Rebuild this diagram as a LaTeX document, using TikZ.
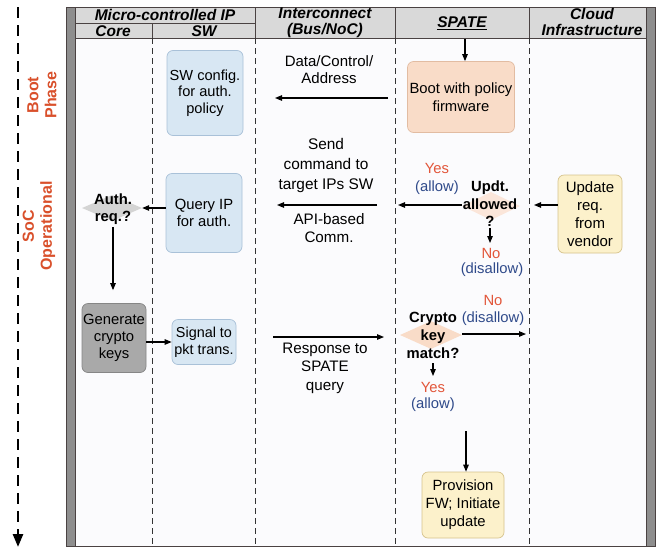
\documentclass[tikz,border=0pt]{standalone}
\usepackage{fontspec}
\setmainfont{Liberation Sans}
\usetikzlibrary{shapes.geometric,arrows.meta}

\definecolor{phasered}{HTML}{D9502B}
\definecolor{yesred}{HTML}{E2563A}
\definecolor{allowblue}{HTML}{2F4A8A}
\definecolor{headgray}{HTML}{D9D9D9}
\definecolor{bodyfill}{HTML}{FBFBFD}
\definecolor{framegray}{HTML}{8E8E8E}
\definecolor{linecol}{HTML}{4A4242}
\definecolor{blfill}{HTML}{D8E7F3}
\definecolor{bldraw}{HTML}{A9C1D8}
\definecolor{pchfill}{HTML}{F9DCC8}
\definecolor{pchdraw}{HTML}{E2BCA2}
\definecolor{ylfill}{HTML}{FCF1CB}
\definecolor{yldraw}{HTML}{D6C38C}
\definecolor{gyfill}{HTML}{A9A9A9}
\definecolor{gydraw}{HTML}{868686}
\definecolor{dmgray}{HTML}{D4D4D4}
\definecolor{dmpeach}{HTML}{F9DCC8}
\definecolor{dmpale}{HTML}{FBE6DA}

\tikzset{
  txt/.style={font=\fontsize{14.8}{17.5}\selectfont, align=center, inner sep=0pt},
  bigtxt/.style={font=\fontsize{15.2}{18}\selectfont, align=center, inner sep=0pt},
  boldtxt/.style={font=\fontsize{14.8}{17.5}\selectfont\bfseries, align=center, inner sep=0pt},
  headtxt/.style={font=\fontsize{15.5}{16}\selectfont\bfseries\itshape, align=center, inner sep=0pt},
  phasetxt/.style={font=\fontsize{16}{18}\selectfont\bfseries, text=phasered, align=center, inner sep=0pt, rotate=90},
  yestxt/.style={txt, text=yesred},
  allowtxt/.style={txt, text=allowblue},
  box/.style={txt, rounded corners=6pt, line width=0.7pt},
  bluebox/.style={box, fill=blfill, draw=bldraw},
  peachbox/.style={box, fill=pchfill, draw=pchdraw},
  yellowbox/.style={box, fill=ylfill, draw=yldraw},
  graybox/.style={box, fill=gyfill, draw=gydraw},
  decision/.style={diamond, inner sep=0pt, draw=none},
  flow/.style={-{Triangle[length=7pt,width=5.5pt]}, line width=1.1pt},
  hline/.style={line width=0.9pt, draw=linecol},
  sep/.style={dash pattern=on 6pt off 4pt, line width=1pt, draw=black!80},
  timeline/.style={dash pattern=on 11pt off 7pt, line width=2.6pt,
                   -{Triangle[length=13pt,width=10pt]}},
}

\begin{document}
\begin{tikzpicture}[x=1pt,y=-1pt]
\useasboundingbox (0,0) rectangle (660,549);

% swimlane body and header band
\fill[bodyfill] (75,38) rectangle (646,546);
\fill[headgray] (75,7) rectangle (646,38);

% header grid
\draw[hline] (75,23) -- (255,23);
\draw[hline] (152,23) -- (152,38);
\draw[hline] (255,7) -- (255,38);
\draw[hline] (395,7) -- (395,38);
\draw[hline] (529,7) -- (529,38);
\draw[hline] (75,38) -- (646,38);
\draw[hline] (66,7) -- (656,7);
\draw[hline] (66,546) -- (656,546);

% lane separators
\draw[sep] (152,38) -- (152,546);
\draw[sep] (255,38) -- (255,546);
\draw[sep] (395,38) -- (395,546);
\draw[sep] (529,38) -- (529,546);

% side bars of the frame
\draw[fill=framegray, draw=linecol, line width=0.7pt] (66,7) rectangle (75,546);
\draw[fill=framegray, draw=linecol, line width=0.7pt] (646,7) rectangle (655,546);

% header labels
\node[headtxt] (hMicro) at (165,15) {Micro-controlled IP};
\node[headtxt] (hCore)  at (113,31) {Core};
\node[headtxt] (hSW)    at (204,31) {SW};
\node[headtxt] (hInter) at (325,23) {Interconnect\\(Bus/NoC)};
\node[headtxt] (hSpate) at (462,23) {\underline{SPATE}};
\node[headtxt] (hCloud) at (592,22) {Cloud\\Infrastructure};

% time axis and phases
\coordinate (tStart) at (18,7);
\coordinate (tEnd) at (18,547);
\draw[timeline] (tStart) -- (tEnd);
\node[phasetxt] (boot phase) at (42,95) {Boot\\Phase};
\node[phasetxt] (soc phase) at (39,226) {SoC\\Operational};

% ---------- boot phase ----------
\node[bluebox, minimum width=76pt, minimum height=85pt,
      font=\fontsize{14.6}{16.3}\selectfont] (swcfg) at (205,93)
      {SW config.\\for auth.\\policy};
\node[peachbox, minimum width=107pt, minimum height=71pt,
      font=\fontsize{14.8}{18}\selectfont] (boot) at (461,97)
      {Boot with policy\\firmware};
\coordinate (spateTop) at (465,39);
\draw[flow] (spateTop) -- (spateTop |- boot.north);

\coordinate (dcaR) at (388,98);
\coordinate (dcaL) at (275,98);
\draw[flow] (dcaR) -- (dcaL);
\node[bigtxt, font=\fontsize{15}{17}\selectfont] (dca) at (329,70) {Data/Control/\\Address};

% ---------- update request ----------
\node[yellowbox, minimum width=64pt, minimum height=78pt,
      font=\fontsize{15}{18}\selectfont] (upd) at (590,214)
      {Update\\req.\\from\\vendor};
\node[decision, fill=dmpale, minimum width=58pt, minimum height=28pt] (dUpdt) at (491,206) {};
\node[boldtxt, font=\fontsize{14.8}{17.5}\selectfont\bfseries] (tUpdt) at (490,204) {Updt.\\allowed\\?};
\coordinate (updIn) at (534,205);
\draw[flow] (upd.west |- updIn) -- (updIn);

\coordinate (updtOut) at (398,205);
\draw[flow] (dUpdt.west |- updtOut) -- (updtOut);
\node[yestxt] (yes1) at (437,168) {Yes};
\node[allowtxt] (allow1) at (437,188) {(allow)};

\coordinate (updtDownA) at (490,228);
\coordinate (updtDownB) at (490,243);
\draw[flow] (updtDownA) -- (updtDownB);
\node[yestxt] (no1) at (491,253) {No};
\node[allowtxt] (disallow1) at (492,270) {(disallow)};

% command to the IP software
\coordinate (cmdR) at (377,205);
\coordinate (cmdL) at (277,205);
\draw[flow] (cmdR) -- (cmdL);
\node[bigtxt, font=\fontsize{15.4}{20}\selectfont] (send) at (326,166) {Send\\command to\\target IPs SW};
\node[bigtxt, font=\fontsize{15.2}{17.5}\selectfont] (api) at (329,228) {API-based\\Comm.};

\node[bluebox, minimum width=76pt, minimum height=79pt,
      font=\fontsize{14.8}{17.5}\selectfont] (query) at (204,213)
      {Query IP\\for auth.};
\node[decision, fill=dmgray, minimum width=60pt, minimum height=26pt] (dAuth) at (112,208) {};
\node[boldtxt] (tAuth) at (113,209) {Auth.\\req.?};
\draw[flow] (query.west |- dAuth.east) -- (dAuth.east);

% ---------- key generation ----------
\node[graybox, minimum width=64pt, minimum height=69pt,
      font=\fontsize{14.8}{17}\selectfont] (gen) at (114,338)
      {Generate\\crypto\\keys};
\coordinate (authDown) at (113,227);
\draw[flow, shorten >=13pt] (authDown) -- (authDown |- gen.north);
\node[bluebox, minimum width=64pt, minimum height=45pt,
      font=\fontsize{14.4}{17}\selectfont] (sig) at (204,342)
      {Signal to\\pkt trans.};
\draw[flow] (sig.west -| gen.east) -- (sig.west);

\coordinate (respL) at (273,337);
\coordinate (respR) at (384,337);
\draw[flow] (respL) -- (respR);
\node[bigtxt, font=\fontsize{15.2}{18.5}\selectfont] (resp) at (325,368) {Response to\\SPATE\\query};

% ---------- key check ----------
\node[decision, fill=dmpeach, minimum width=62pt, minimum height=28pt] (dCrypto) at (431,335) {};
\node[boldtxt, font=\fontsize{14.8}{18}\selectfont\bfseries] (tCrypto) at (433,335) {Crypto\\key\\match?};
\coordinate (cryptoNo) at (526,334);
\draw[flow] (dCrypto.east |- cryptoNo) -- (cryptoNo);
\node[yestxt] (no2) at (493,300) {No};
\node[allowtxt] (disallow2) at (493,319) {(disallow)};

\coordinate (cryptoDownA) at (433,363);
\coordinate (cryptoDownB) at (433,376);
\draw[flow] (cryptoDownA) -- (cryptoDownB);
\node[yestxt] (yes2) at (433,387) {Yes};
\node[allowtxt] (allow2) at (433,405) {(allow)};

% ---------- provisioning ----------
\node[yellowbox, minimum width=82pt, minimum height=66pt,
      font=\fontsize{14.8}{18}\selectfont] (prov) at (463,505)
      {Provision\\FW; Initiate\\update};
\coordinate (provTop) at (466,431);
\draw[flow] (provTop) -- (provTop |- prov.north);

\end{tikzpicture}
\end{document}
